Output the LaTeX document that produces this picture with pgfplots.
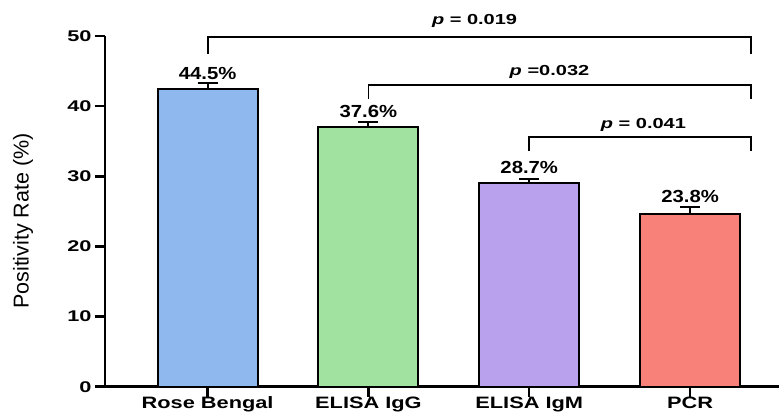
\documentclass[border=0pt]{standalone}
\usepackage{pgfplots}
\pgfplotsset{compat=1.18}
\usepackage{fontspec}
\usepackage{graphicx}
\setmainfont{Liberation Sans}
\definecolor{cBlue}{HTML}{8FB9EE}
\definecolor{cGreen}{HTML}{A2E2A0}
\definecolor{cPurple}{HTML}{B9A1EE}
\definecolor{cRed}{HTML}{F8817A}
\newcommand{\W}[2]{\scalebox{#1}[1]{#2}}
\newcommand{\tickfont}{\fontsize{15.5}{17}\selectfont\bfseries}
\newcommand{\catfont}{\fontsize{16.5}{18}\selectfont\bfseries}
\newcommand{\valfont}{\fontsize{17.5}{19}\selectfont\bfseries}
\newcommand{\pfont}{\fontsize{14.5}{16}\selectfont\bfseries}
\begin{document}
\begin{tikzpicture}
\begin{axis}[
  at={(0,0)}, anchor=south west,
  scale only axis, width=674pt, height=350.7pt,
  xmin=-0.638, xmax=3.553, ymin=0, ymax=50,
  axis x line*=bottom, axis y line*=left,
  axis line style={line width=2.5pt, black},
  xtick={0,1,2,3},
  xticklabels={\W{1.32}{Rose Bengal},\W{1.32}{ELISA IgG},\W{1.32}{ELISA IgM},\W{1.32}{PCR}},
  xticklabel style={font=\catfont, yshift=3.5pt},
  ytick={0,10,20,30,40,50},
  /pgf/number format/assume math mode=true,
  yticklabel={\W{1.4}{\tickfont\pgfmathprintnumber[assume math mode=true]{\tick}}},
  xtick align=outside, ytick align=outside,
  major tick length=10pt,
  every tick/.style={line width=2.5pt, black},
  major tick style={line width=2.5pt, black},
  clip=false,
  ylabel={Positivity Rate (\%)},
  ylabel style={font=\fontsize{21.5}{24}\selectfont, at={(axis description cs:-0.1217,0.4725)}, anchor=center},
  error bars/error bar style={line width=2pt, black},
  error bars/error mark options={rotate=90, mark size=10pt, line width=2pt, black},
]
\addplot[ybar, bar width=100pt, bar shift=0pt, fill=cBlue, draw=black, line width=2pt,
  error bars/.cd, y dir=plus, y explicit] coordinates {(0,42.5) +- (0,0.8)};
\addplot[ybar, bar width=100pt, bar shift=0pt, fill=cGreen, draw=black, line width=2pt,
  error bars/.cd, y dir=plus, y explicit] coordinates {(1,37.0) +- (0,0.7)};
\addplot[ybar, bar width=100pt, bar shift=0pt, fill=cPurple, draw=black, line width=2pt,
  error bars/.cd, y dir=plus, y explicit] coordinates {(2,29.0) +- (0,0.6)};
\addplot[ybar, bar width=100pt, bar shift=0pt, fill=cRed, draw=black, line width=2pt,
  error bars/.cd, y dir=plus, y explicit] coordinates {(3,24.6) +- (0,0.95)};

\addplot[black, line width=1.8pt, no marks, sharp plot] coordinates {(0,47.5) (0,49.9) (3.38,49.9) (3.38,47.5)};
\addplot[black, line width=1.8pt, no marks, sharp plot] coordinates {(1,41.0) (1,43.0) (3.38,43.0) (3.38,41.0)};
\addplot[black, line width=1.8pt, no marks, sharp plot] coordinates {(2,33.65) (2,35.56) (3.38,35.56) (3.38,33.65)};

\node[anchor=base, font=\valfont, inner sep=0pt] at (axis cs:0,43.83) {\W{1.16}{44.5\%}};
\node[anchor=base, font=\valfont, inner sep=0pt] at (axis cs:1,38.41) {\W{1.16}{37.6\%}};
\node[anchor=base, font=\valfont, inner sep=0pt] at (axis cs:2,30.43) {\W{1.16}{28.7\%}};
\node[anchor=base, font=\valfont, inner sep=0pt] at (axis cs:3,26.29) {\W{1.16}{23.8\%}};

\node[anchor=base, font=\pfont, inner sep=0pt] at (axis cs:1.66,51.68) {\W{1.38}{\textit{p} = 0.019}};
\node[anchor=base, font=\pfont, inner sep=0pt] at (axis cs:2.126,44.4) {\W{1.38}{\textit{p} =0.032}};
\node[anchor=base, font=\pfont, inner sep=0pt] at (axis cs:2.71,36.85) {\W{1.38}{\textit{p} = 0.041}};
\end{axis}
\pgfresetboundingbox
\path (-105pt,-25.3pt) rectangle (674pt,386.7pt);
\end{tikzpicture}
\end{document}
